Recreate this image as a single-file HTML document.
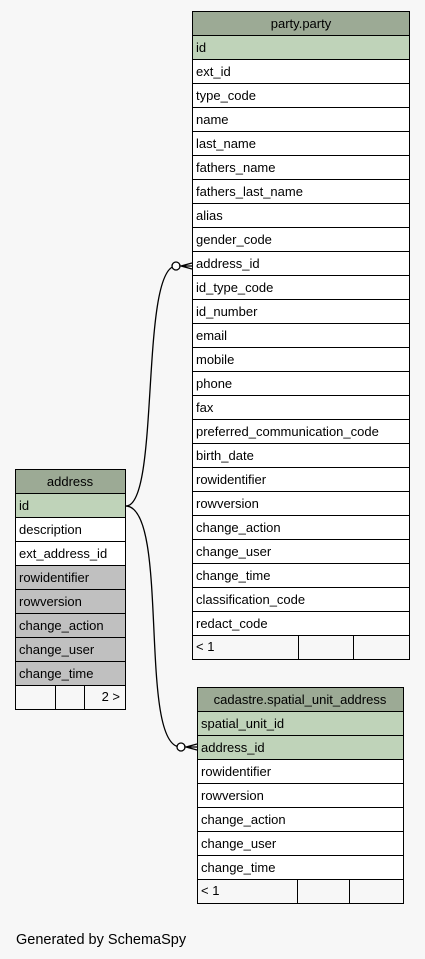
<!DOCTYPE html>
<html><head><style>body{margin:0;background:#f7f7f7}svg{display:block}text{font-family:"Liberation Sans",sans-serif;font-size:13px;fill:#000}</style></head><body>
<svg width="425" height="959" xmlns="http://www.w3.org/2000/svg">
<rect width="425" height="959" fill="#f7f7f7"/>
<g fill="none" stroke="#000" stroke-width="1.3">
<path d="M126,506 C160,506 140,272 175,266"/>
<path d="M126,506 C170,508 138,745 180,747"/>
<circle cx="176" cy="266" r="4" fill="#fff"/>
<path d="M192,263 L181,266 L192,269 M181,266 L192,266"/>
<circle cx="181" cy="747" r="4" fill="#fff"/>
<path d="M197,744 L186,747 L197,750 M186,747 L197,747"/>
</g>
<g stroke="#000" stroke-width="1">
<rect x="192.5" y="11.5" width="217" height="24" fill="#9caa95"/>
<rect x="192.5" y="35.5" width="217" height="24" fill="#bfd3b9"/>
<rect x="192.5" y="59.5" width="217" height="576" fill="#fff"/>
<rect x="192.5" y="635.5" width="217" height="24" fill="#f7f7f7"/>
<path d="M298.5,635.5V659.5M353.5,635.5V659.5"/>
<path d="M192.5,83.5h217M192.5,107.5h217M192.5,131.5h217M192.5,155.5h217M192.5,179.5h217M192.5,203.5h217M192.5,227.5h217M192.5,251.5h217M192.5,275.5h217M192.5,299.5h217M192.5,323.5h217M192.5,347.5h217M192.5,371.5h217M192.5,395.5h217M192.5,419.5h217M192.5,443.5h217M192.5,467.5h217M192.5,491.5h217M192.5,515.5h217M192.5,539.5h217M192.5,563.5h217M192.5,587.5h217M192.5,611.5h217"/>
<rect x="15.5" y="469.5" width="110" height="24" fill="#9caa95"/>
<rect x="15.5" y="493.5" width="110" height="24" fill="#bfd3b9"/>
<rect x="15.5" y="517.5" width="110" height="48" fill="#fff"/>
<rect x="15.5" y="565.5" width="110" height="120" fill="#c0c0c0"/>
<rect x="15.5" y="685.5" width="110" height="24" fill="#f7f7f7"/>
<path d="M15.5,541.5h110M15.5,589.5h110M15.5,613.5h110M15.5,637.5h110M15.5,661.5h110M55.5,685.5V709.5M84.5,685.5V709.5"/>
<rect x="197.5" y="687.5" width="206" height="24" fill="#9caa95"/>
<rect x="197.5" y="711.5" width="206" height="48" fill="#bfd3b9"/>
<rect x="197.5" y="759.5" width="206" height="120" fill="#fff"/>
<rect x="197.5" y="879.5" width="206" height="24" fill="#f7f7f7"/>
<path d="M197.5,735.5h206M197.5,783.5h206M197.5,807.5h206M197.5,831.5h206M197.5,855.5h206M297.5,879.5V903.5M349.5,879.5V903.5"/>
</g>
<g>
<text x="301" y="28" text-anchor="middle">party.party</text>
<text x="196" y="52">id</text><text x="196" y="76">ext_id</text><text x="196" y="100">type_code</text><text x="196" y="124">name</text><text x="196" y="148">last_name</text><text x="196" y="172">fathers_name</text><text x="196" y="196">fathers_last_name</text><text x="196" y="220">alias</text><text x="196" y="244">gender_code</text><text x="196" y="268">address_id</text><text x="196" y="292">id_type_code</text><text x="196" y="316">id_number</text><text x="196" y="340">email</text><text x="196" y="364">mobile</text><text x="196" y="388">phone</text><text x="196" y="412">fax</text><text x="196" y="436">preferred_communication_code</text><text x="196" y="460">birth_date</text><text x="196" y="484">rowidentifier</text><text x="196" y="508">rowversion</text><text x="196" y="532">change_action</text><text x="196" y="556">change_user</text><text x="196" y="580">change_time</text><text x="196" y="604">classification_code</text><text x="196" y="628">redact_code</text><text x="196" y="651">&lt; 1</text>
<text x="70" y="486" text-anchor="middle">address</text>
<text x="19" y="510">id</text><text x="19" y="534">description</text><text x="19" y="558">ext_address_id</text><text x="19" y="582">rowidentifier</text><text x="19" y="606">rowversion</text><text x="19" y="630">change_action</text><text x="19" y="654">change_user</text><text x="19" y="678">change_time</text><text x="120" y="701" text-anchor="end">2 &gt;</text>
<text x="300" y="704" text-anchor="middle">cadastre.spatial_unit_address</text>
<text x="201" y="728">spatial_unit_id</text><text x="201" y="752">address_id</text><text x="201" y="776">rowidentifier</text><text x="201" y="800">rowversion</text><text x="201" y="824">change_action</text><text x="201" y="848">change_user</text><text x="201" y="872">change_time</text><text x="201" y="895">&lt; 1</text>
<text x="16" y="944" style="font-size:14.5px">Generated by SchemaSpy</text>
</g>
</svg>
</body></html>
